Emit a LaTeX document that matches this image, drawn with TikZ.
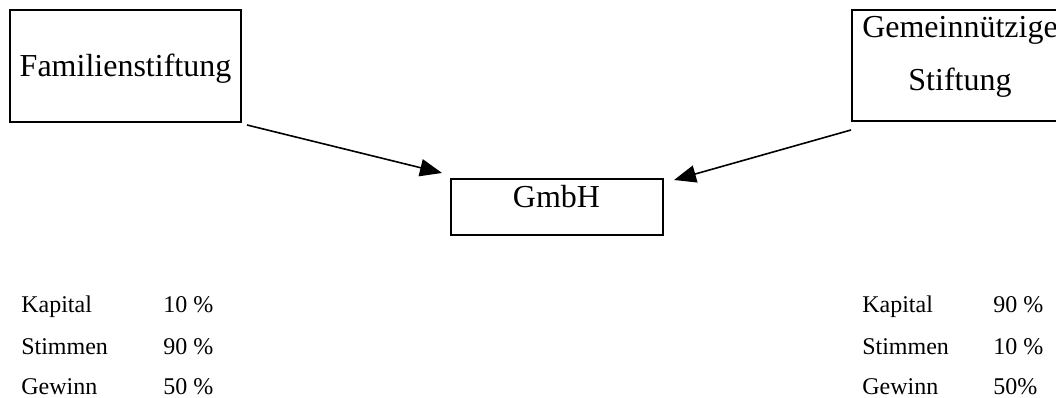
\documentclass[tikz,border=0pt]{standalone}
\usepackage{fontspec}
\setmainfont{Liberation Serif}
\usetikzlibrary{arrows.meta}
\begin{document}
\begin{tikzpicture}[x=0.75pt,y=-0.75pt,
  box/.style={draw, line width=1.4pt, inner sep=0pt},
  big/.style={inner sep=0pt, anchor=base, font=\fontsize{24}{28}\selectfont},
  small/.style={inner sep=0pt, anchor=base west, font=\fontsize{18}{22}\selectfont},
  conn/.style={line width=1.2pt, -{Triangle[length=16.5pt,width=13pt]}}]
\useasboundingbox (0,0) rectangle (1056,398);
% boxes
\node[box, minimum width={231*0.75pt}, minimum height={112*0.75pt}] (fam) at (125.5,66) {};
\node[box, minimum width={216*0.75pt}, minimum height={111*0.75pt}] (gem) at (960,65.5) {};
\node[box, minimum width={212*0.75pt}, minimum height={56*0.75pt}] (gmbh) at (557,207) {};
% texts
\node[big] (famt) at (125.5,77) {Familienstiftung};
\node[big] (gemt1) at (960,37.5) {Gemeinnützige};
\node[big] (gemt2) at (960,90.5) {Stiftung};
\node[big] (gmbht) at (556.5,208) {GmbH};
% connectors
\coordinate (a1) at (247,125);
\coordinate (a2) at (442,173);
\coordinate (b1) at (851,130);
\coordinate (b2) at (674,180);
\draw[conn] (a1) -- (a2);
\draw[conn] (b1) -- (b2);
% left table
\node[small] (lk) at (21,313) {Kapital};
\node[small] (ls) at (21,354.5) {Stimmen};
\node[small] (lg) at (21,395) {Gewinn};
\node[small] (lkv) at (163,313) {10 \%};
\node[small] (lsv) at (163,354.5) {90 \%};
\node[small] (lgv) at (163,395) {50 \%};
% right table
\node[small] (rk) at (862,313) {Kapital};
\node[small] (rs) at (862,354.5) {Stimmen};
\node[small] (rg) at (862,395) {Gewinn};
\node[small] (rkv) at (993,313) {90 \%};
\node[small] (rsv) at (993,354.5) {10 \%};
\node[small] (rgv) at (993,395) {50\%};
\end{tikzpicture}
\end{document}
